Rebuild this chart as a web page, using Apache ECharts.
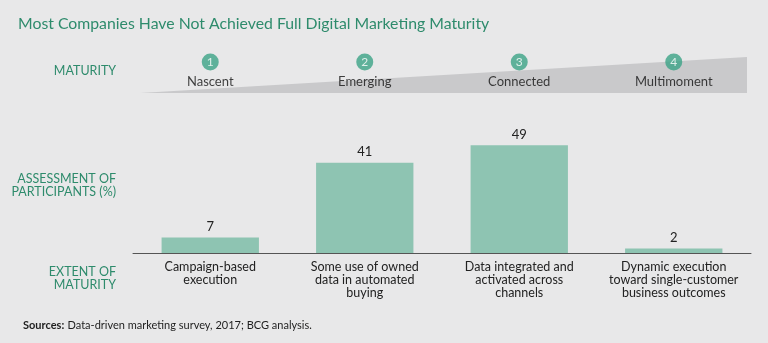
<!DOCTYPE html>
<html><head><meta charset="utf-8">
<script src="https://cdn.jsdelivr.net/npm/echarts@6/dist/echarts.min.js"></script>
<style>html,body{margin:0;padding:0;background:#e8e8e9;}#c{width:768px;height:343px;}</style>
</head><body><div id="c"></div>
<script>
const categories = [
  "Campaign-based\nexecution",
  "Some use of owned\ndata in automated\nbuying",
  "Data integrated and\nactivated across\nchannels",
  "Dynamic execution\ntoward single-customer\nbusiness outcomes"
];
const values = [7, 41, 49, 2];
const stageNumbers = ["1", "2", "3", "4"];
const stageNames = ["Nascent", "Emerging", "Connected", "Multimoment"];

const green = '#2e8b6c';
const font = 'Lato, "Noto Sans", sans-serif';
const chart = echarts.init(document.getElementById('c'));
chart.setOption({
  backgroundColor: '#e8e8e9',
  animation: false,
  textStyle: { fontFamily: font },
  title: {
    text: 'Most Companies Have Not Achieved Full Digital Marketing Maturity',
    left: 13, top: 11,
    textStyle: { color: green, fontSize: 15.8, fontWeight: 'normal', fontFamily: font }
  },
  grid: [
    { left: 133, right: 17, top: 121, bottom: 90 },
    { left: 133, right: 17, top: 50, height: 40 }
  ],
  xAxis: [
    {
      type: 'category', gridIndex: 0, data: categories,
      axisLine: { lineStyle: { color: '#555', width: 1 } },
      axisTick: { show: false },
      axisLabel: { color: '#222', fontSize: 12.5, lineHeight: 13, margin: 7, interval: 0, fontFamily: font }
    },
    {
      type: 'category', gridIndex: 1, data: stageNames,
      axisLine: { show: false }, axisTick: { show: false }, axisLabel: { show: false }
    }
  ],
  yAxis: [
    { type: 'value', gridIndex: 0, min: 0, max: 60, show: false, splitLine: { show: false } },
    { type: 'value', gridIndex: 1, min: 0, max: 40, show: false, splitLine: { show: false } }
  ],
  graphic: [
    { type: 'polygon', z: 0, shape: { points: [[140, 93], [747, 57], [747, 93]] }, style: { fill: '#c9c9cb' } },
    { type: 'text', x: 85, y: 71, style: { text: 'MATURITY', fill: green, font: '12.5px ' + font, align: 'center', verticalAlign: 'middle' } },
    { type: 'text', x: 116, y: 185, style: { text: 'ASSESSMENT OF\nPARTICIPANTS (%)', fill: green, font: '12.5px ' + font, align: 'right', verticalAlign: 'middle', lineHeight: 13 } },
    { type: 'text', x: 116, y: 278, style: { text: 'EXTENT OF\nMATURITY', fill: green, font: '12.5px ' + font, align: 'right', verticalAlign: 'middle', lineHeight: 13 } },
    { type: 'text', x: 23, y: 325, style: {
      verticalAlign: 'middle',
      rich: { b: { fontWeight: 'bold', fontSize: 11, fill: '#1e1e1e', fontFamily: font }, n: { fontSize: 11, fill: '#1e1e1e', fontFamily: font } },
      text: '{b|Sources:} {n|Data-driven marketing survey, 2017; BCG analysis.}'
    } }
  ],
  series: [
    {
      type: 'bar', xAxisIndex: 0, yAxisIndex: 0, data: values, barWidth: '63%',
      itemStyle: { color: '#8ec4b2' },
      label: { show: true, position: 'top', color: '#222', fontSize: 13, distance: 4, fontFamily: font }
    },
    {
      type: 'scatter', xAxisIndex: 1, yAxisIndex: 1, z: 5,
      data: stageNumbers.map((n, i) => ({ value: [i, 28], label: { formatter: n } })),
      symbol: 'circle', symbolSize: 17,
      itemStyle: { color: '#3ba386' },
      label: { show: true, position: 'inside', color: '#fff', fontSize: 12, fontFamily: font }
    },
    {
      type: 'scatter', xAxisIndex: 1, yAxisIndex: 1, z: 5,
      data: stageNames.map((n, i) => ({ value: [i, 8], label: { formatter: n } })),
      symbolSize: 0,
      label: { show: true, position: 'inside', color: '#111', fontSize: 13, fontFamily: font }
    }
  ]
});
</script></body></html>
